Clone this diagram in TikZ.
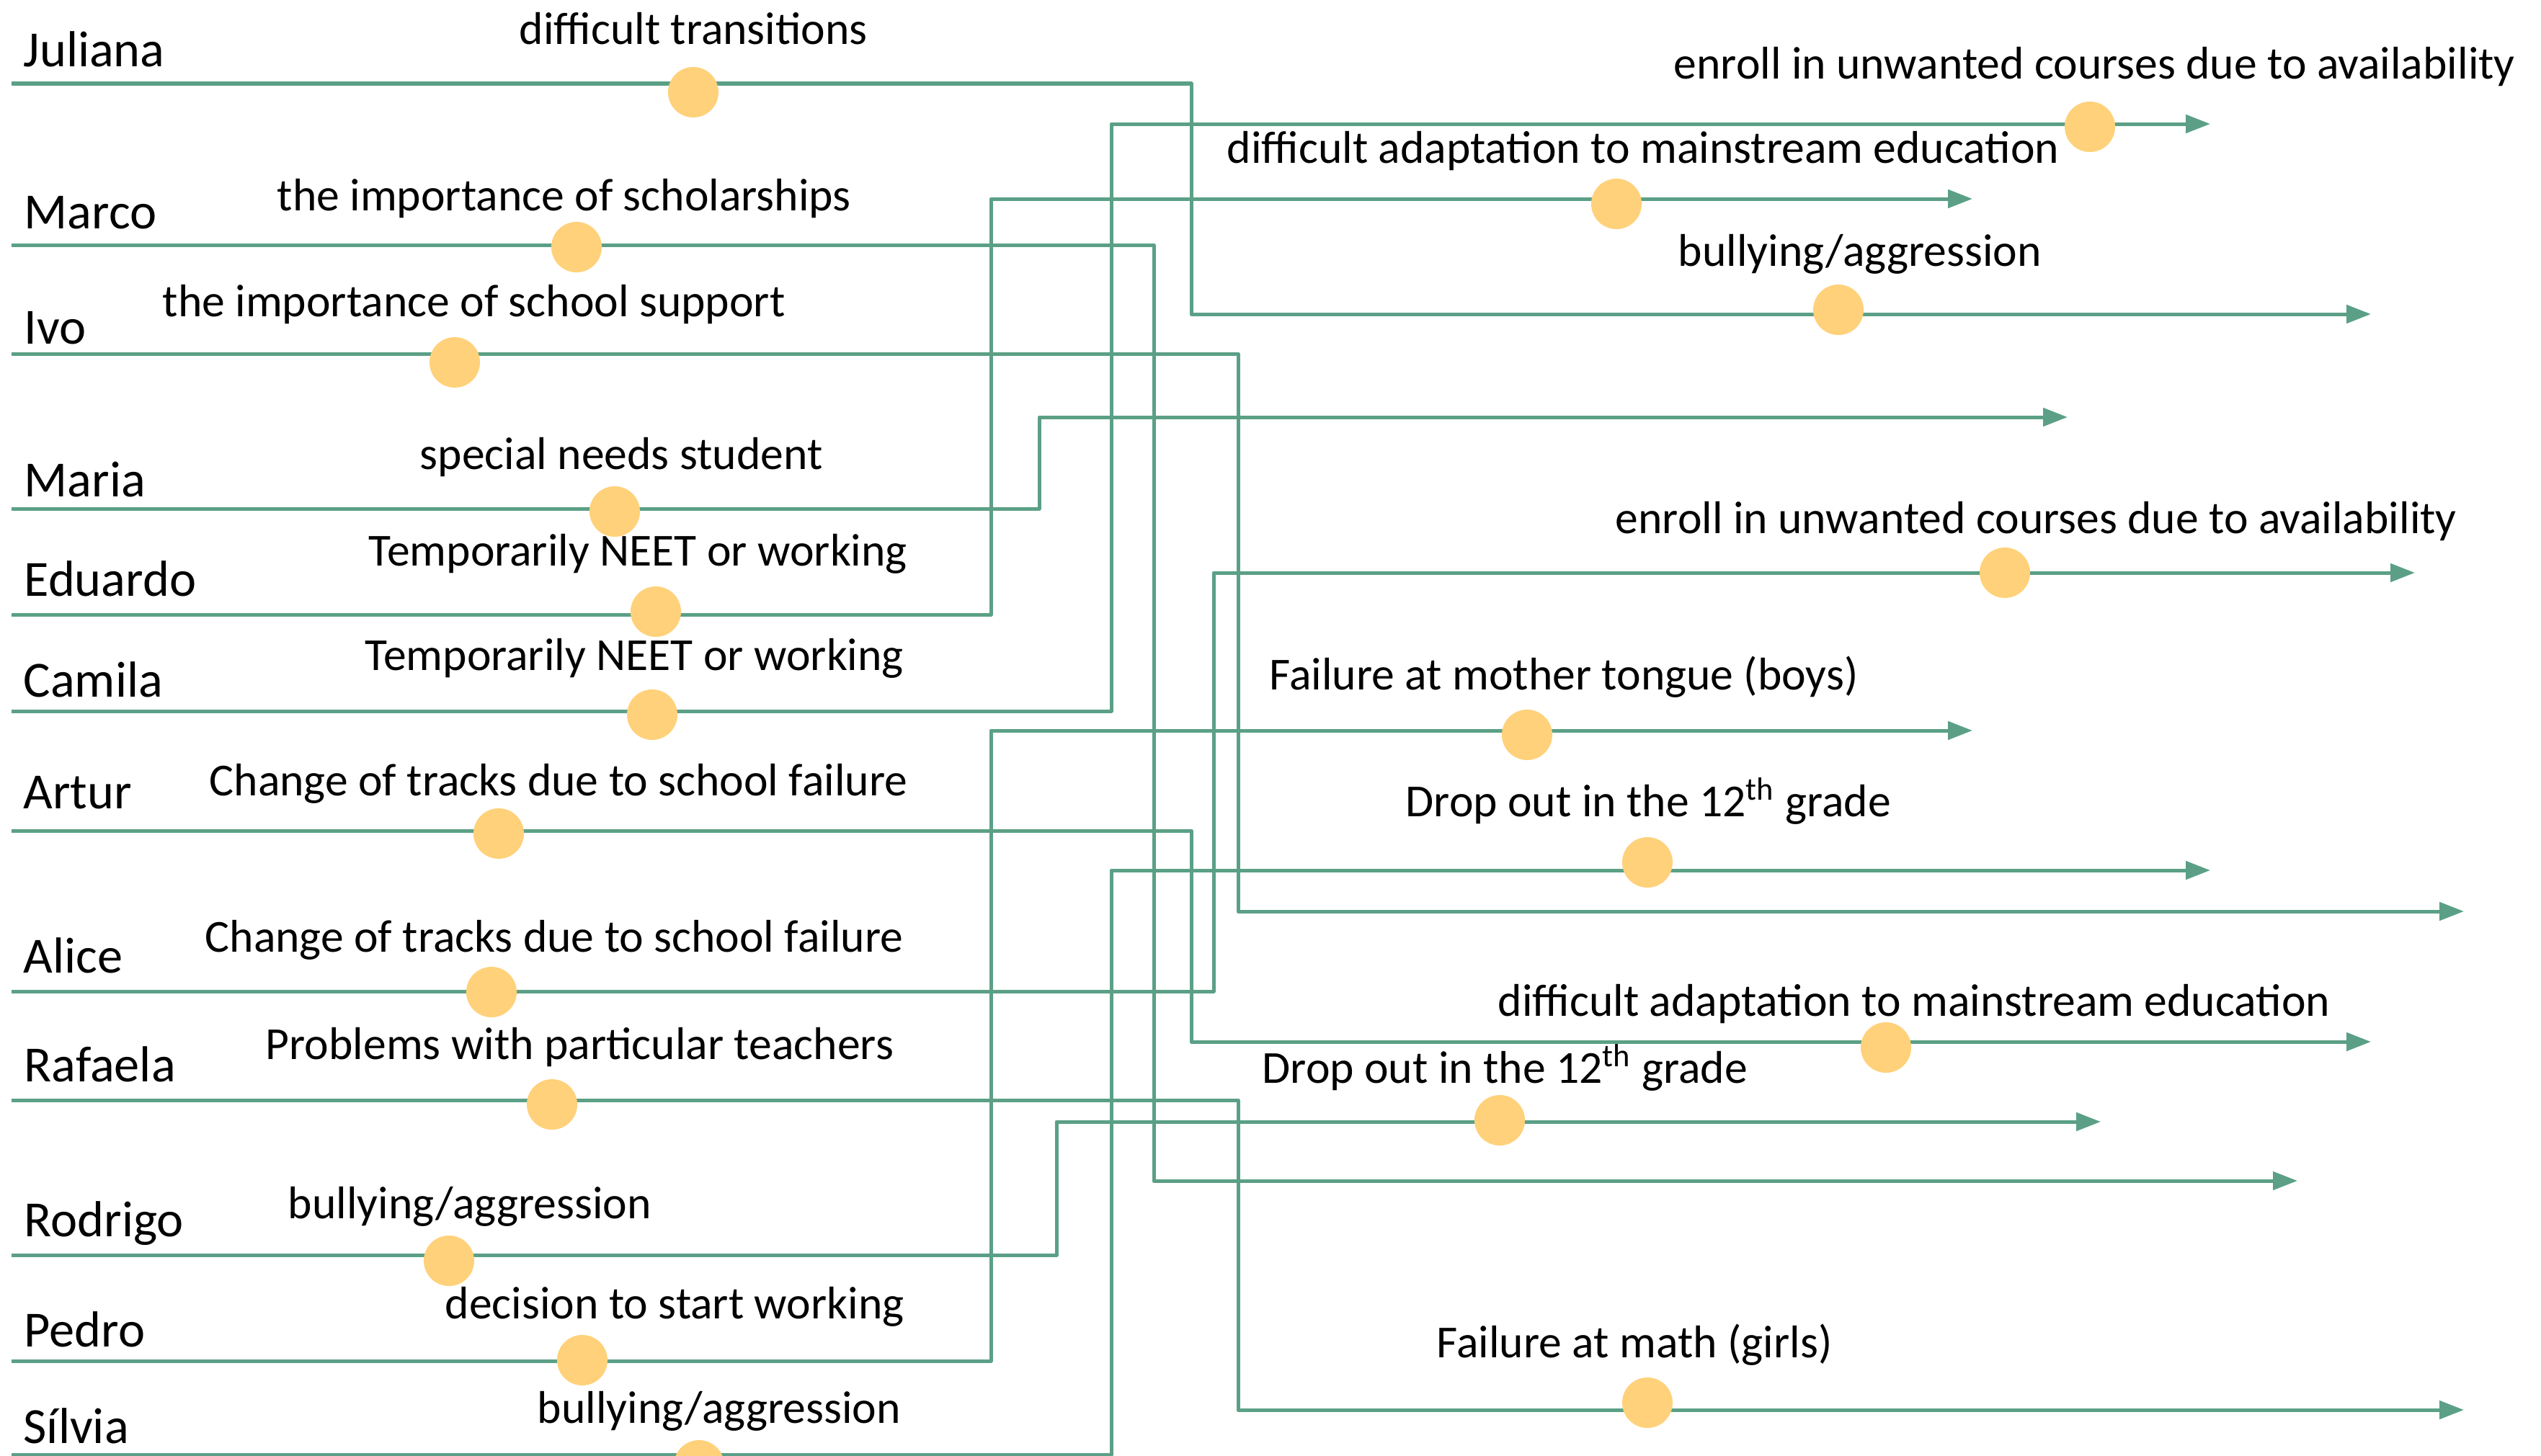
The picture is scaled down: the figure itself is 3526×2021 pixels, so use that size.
\documentclass[tikz,border=0pt]{standalone}
\usepackage{fontspec}
\setmainfont{Carlito}
\usetikzlibrary{arrows.meta}
\definecolor{linkc}{RGB}{91,160,134}
\definecolor{dotc}{RGB}{255,209,122}
\tikzset{
  conn/.style={draw=linkc, line width=0.05cm, line join=round},
  arr/.style={conn, -{Triangle[length=0.34cm,width=0.25cm]}},
  dot/.style={circle, fill=dotc, draw=none, minimum size=0.70cm, inner sep=0pt},
  who/.style={anchor=base west, inner sep=0pt, font=\fontsize{20}{24}\selectfont},
  ev/.style={anchor=base west, inner sep=0pt, font=\fontsize{18.1}{22}\selectfont},
}
\begin{document}
\begin{tikzpicture}[x=0.01cm, y=-0.01cm]
\useasboundingbox (0,0) rectangle (3526,2021);

% start points
\coordinate (jS) at (16,116);
\coordinate (mS) at (16,340);
\coordinate (iS) at (16,491);
\coordinate (maS) at (16,706);
\coordinate (eS) at (16,853);
\coordinate (cS) at (16,987);
\coordinate (aS) at (16,1153);
\coordinate (alS) at (16,1376);
\coordinate (rS) at (16,1527);
\coordinate (roS) at (16,1742);
\coordinate (pS) at (16,1889);
\coordinate (sS) at (16,2019);

% turn points
\coordinate (jV) at (1653,436);
\coordinate (mV) at (1601,1639);
\coordinate (iV) at (1718,1265);
\coordinate (maV) at (1442,579);
\coordinate (eV) at (1375,276);
\coordinate (cV) at (1542,172);
\coordinate (aV) at (1653,1446);
\coordinate (alV) at (1684,795);
\coordinate (rV) at (1718,1957);
\coordinate (roV) at (1466,1557);
\coordinate (pV) at (1375,1014);
\coordinate (sV) at (1542,1208);

% end points
\coordinate (jE) at (3290,436);
\coordinate (mE) at (3188,1639);
\coordinate (iE) at (3419,1265);
\coordinate (maE) at (2869,579);
\coordinate (eE) at (2737,276);
\coordinate (cE) at (3067,172);
\coordinate (aE) at (3290,1446);
\coordinate (alE) at (3351,795);
\coordinate (rE) at (3419,1957);
\coordinate (roE) at (2915,1557);
\coordinate (pE) at (2737,1014);
\coordinate (sE) at (3067,1208);

% connectors
\draw[arr] (jS) -| (jV) -- (jE);
\draw[arr] (mS) -| (mV) -- (mE);
\draw[arr] (iS) -| (iV) -- (iE);
\draw[arr] (maS) -| (maV) -- (maE);
\draw[arr] (eS) -| (eV) -- (eE);
\draw[arr] (cS) -| (cV) -- (cE);
\draw[arr] (aS) -| (aV) -- (aE);
\draw[arr] (alS) -| (alV) -- (alE);
\draw[arr] (rS) -| (rV) -- (rE);
\draw[arr] (roS) -| (roV) -- (roE);
\draw[arr] (pS) -| (pV) -- (pE);
\draw[arr] (sS) -| (sV) -- (sE);

% dots on left lines
\node[dot] (dj) at (962,128) {};
\node[dot] (dm) at (800,343) {};
\node[dot] (di) at (631,503) {};
\node[dot] (dma) at (853,710) {};
\node[dot] (de) at (910,849) {};
\node[dot] (dc) at (905,992) {};
\node[dot] (da) at (692,1157) {};
\node[dot] (dal) at (682,1377) {};
\node[dot] (dr) at (766,1533) {};
\node[dot] (dro) at (623,1750) {};
\node[dot] (dp) at (808,1888) {};
\node[dot] (ds) at (970,2034) {};

% dots on right lines
\node[dot] (tc) at (2900,176) {};
\node[dot] (te) at (2243,283) {};
\node[dot] (tj) at (2551,430) {};
\node[dot] (tal) at (2782,795) {};
\node[dot] (tp) at (2119,1020) {};
\node[dot] (ts) at (2286,1197) {};
\node[dot] (ta) at (2617,1454) {};
\node[dot] (tro) at (2081,1555) {};
\node[dot] (tr) at (2286,1947) {};

% names
\node[who] (nj) at (32,92) {Juliana};
\node[who] (nm) at (33,317) {Marco};
\node[who] (ni) at (33,477) {Ivo};
\node[who] (nma) at (33,689) {Maria};
\node[who] (ne) at (33,827) {Eduardo};
\node[who] (nc) at (32,967) {Camila};
\node[who] (na) at (32,1122) {Artur};
\node[who] (nal) at (32,1350) {Alice};
\node[who] (nr) at (33,1501) {Rafaela};
\node[who] (nro) at (33,1716) {Rodrigo};
\node[who] (np) at (33,1869) {Pedro};
\node[who] (ns) at (32,2003) {Sílvia};

% left event labels
\node[ev] (lj) at (720,61) {difficult transitions};
\node[ev] (lm) at (384,292) {the importance of scholarships};
\node[ev] (li) at (225,439) {the importance of school support};
\node[ev] (lma) at (582,651) {special needs student};
\node[ev] (le) at (511,785) {Temporarily NEET or working};
\node[ev] (lc) at (506,930) {Temporarily NEET or working};
\node[ev] (la) at (290,1104) {Change of tracks due to school failure};
\node[ev] (lal) at (284,1321) {Change of tracks due to school failure};
\node[ev] (lr) at (368,1470) {Problems with particular teachers};
\node[ev] (lro) at (399,1691) {bullying/aggression};
\node[ev] (lp) at (617,1830) {decision to start working};
\node[ev] (ls) at (745,1975) {bullying/aggression};

% right event labels
\node[ev] (rc) at (2322,110) {enroll in unwanted courses due to availability};
\node[ev] (re) at (1702,226) {difficult adaptation to mainstream education};
\node[ev] (rj) at (2328,369) {bullying/aggression};
\node[ev] (ral) at (2241,740) {enroll in unwanted courses due to availability};
\node[ev] (rp) at (1761,957) {Failure at mother tongue (boys)};
\node[ev] (rs) at (1950,1133) {Drop out in the 12\textsuperscript{th} grade};
\node[ev] (ra) at (2078,1410) {difficult adaptation to mainstream education};
\node[ev] (rro) at (1751,1503) {Drop out in the 12\textsuperscript{th} grade};
\node[ev] (rr) at (1993,1884) {Failure at math (girls)};
\end{tikzpicture}
\end{document}
